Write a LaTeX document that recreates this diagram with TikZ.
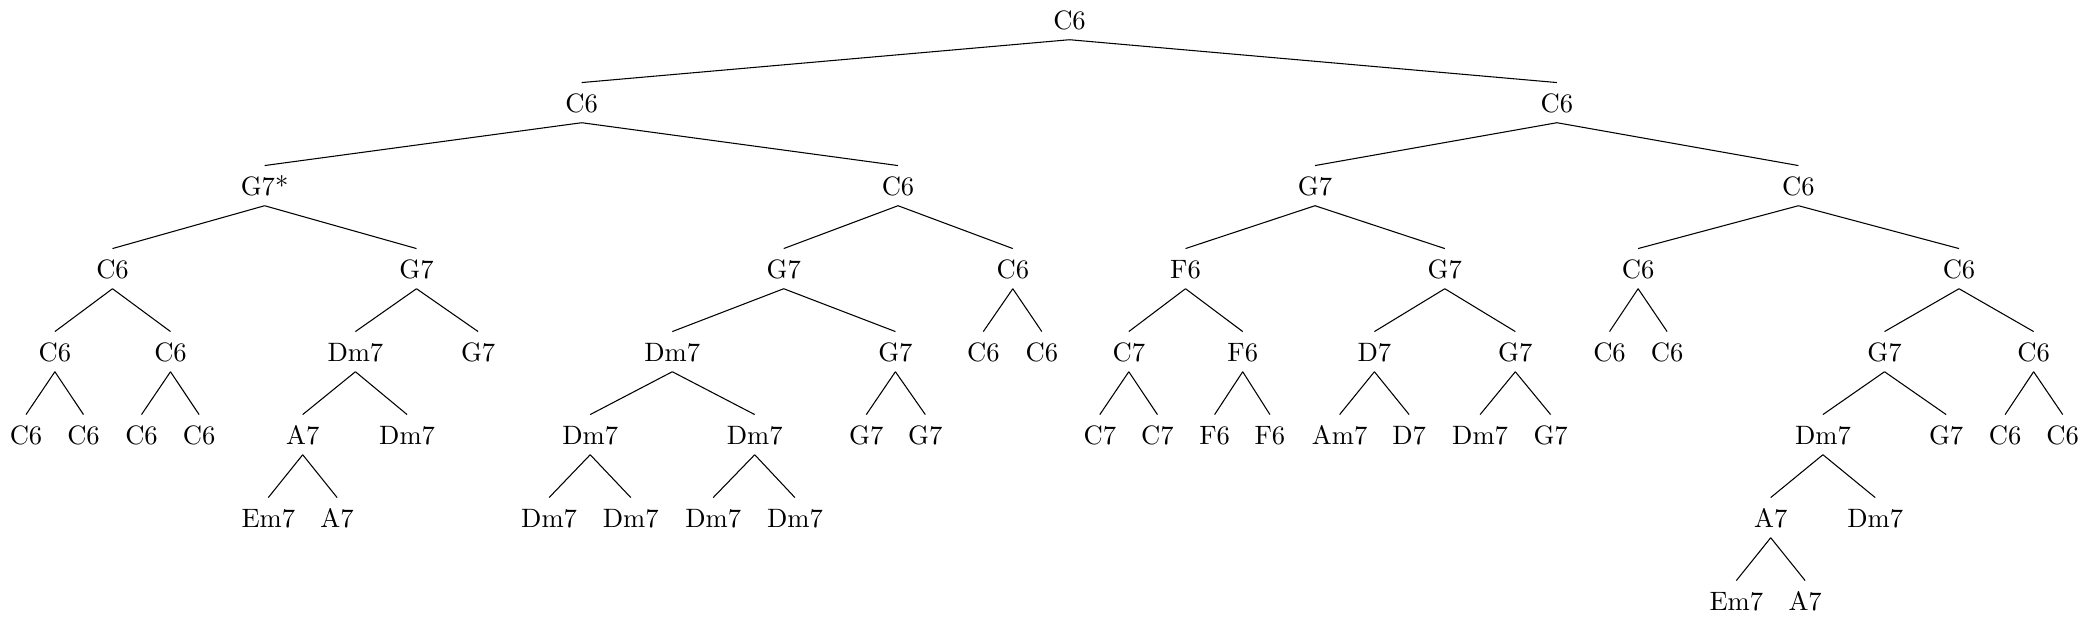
\documentclass[tikz,border=0pt]{standalone}
\begin{document}
\begin{tikzpicture}[x=0.376pt,y=-0.376pt,
  chord/.style={inner xsep=0pt,inner ysep=3.4pt,text height=6.9pt,text depth=0.2pt},
  branch/.style={line width=0.4pt}]
\useasboundingbox (0,0) rectangle (2089,619);
% level 0-3
\node[chord] (r) at (1069.5,20.7) {C6};
\node[chord] (L) at (581.7,103.7) {C6};
\node[chord] (R) at (1556.9,103.7) {C6};
\node[chord] (LL) at (264.6,186.7) {G7*};
\node[chord] (LR) at (898,186.7) {C6};
\node[chord] (RL) at (1315,186.7) {G7};
\node[chord] (RR) at (1798.4,186.7) {C6};
\node[chord] (LLL) at (112.5,269.7) {C6};
\node[chord] (LLR) at (416.5,269.7) {G7};
\node[chord] (LRL) at (783.7,269.7) {G7};
\node[chord] (LRR) at (1012.8,269.7) {C6};
\node[chord] (RLL) at (1185.5,269.7) {F6};
\node[chord] (RLR) at (1444.8,269.7) {G7};
\node[chord] (RRL) at (1638.1,269.7) {C6};
\node[chord] (RRR) at (1959,269.7) {C6};
% level 4
\node[chord] (LLLL) at (54.9,352.7) {C6};
\node[chord] (LLLR) at (170.5,352.7) {C6};
\node[chord] (LLRL) at (355.4,352.7) {Dm7};
\node[chord] (LLRR) at (478.1,352.7) {G7};
\node[chord] (LRLL) at (672.3,352.7) {Dm7};
\node[chord] (LRLR) at (895.4,352.7) {G7};
\node[chord] (LRRL) at (983.3,352.7) {C6};
\node[chord] (LRRR) at (1041.8,352.7) {C6};
\node[chord] (RLLL) at (1128.8,352.7) {C7};
\node[chord] (RLLR) at (1242.7,352.7) {F6};
\node[chord] (RLRL) at (1374.4,352.7) {D7};
\node[chord] (RLRR) at (1515.3,352.7) {G7};
\node[chord] (RRLL) at (1609.5,352.7) {C6};
\node[chord] (RRLR) at (1667.1,352.7) {C6};
\node[chord] (RRRL) at (1884.5,352.7) {G7};
\node[chord] (RRRR) at (2033.6,352.7) {C6};
% level 5
\node[chord] (a1) at (26,435.7) {C6};
\node[chord] (a2) at (83.5,435.7) {C6};
\node[chord] (a3) at (141.5,435.7) {C6};
\node[chord] (a4) at (199.1,435.7) {C6};
\node[chord] (a5) at (302.7,435.7) {A7};
\node[chord] (a6) at (407.1,435.7) {Dm7};
\node[chord] (a7) at (590.2,435.7) {Dm7};
\node[chord] (a8) at (754.7,435.7) {Dm7};
\node[chord] (a9) at (866.3,435.7) {G7};
\node[chord] (a10) at (925.3,435.7) {G7};
\node[chord] (a11) at (1099.8,435.7) {C7};
\node[chord] (a12) at (1157.4,435.7) {C7};
\node[chord] (a13) at (1214.6,435.7) {F6};
\node[chord] (a14) at (1269.9,435.7) {F6};
\node[chord] (a15) at (1339.6,435.7) {Am7};
\node[chord] (a16) at (1409.1,435.7) {D7};
\node[chord] (a17) at (1480.1,435.7) {Dm7};
\node[chord] (a18) at (1550.6,435.7) {G7};
\node[chord] (a19) at (1822.9,435.7) {Dm7};
\node[chord] (a20) at (1946.1,435.7) {G7};
\node[chord] (a21) at (2005.1,435.7) {C6};
\node[chord] (a22) at (2062.7,435.7) {C6};
% level 6
\node[chord] (b1) at (268.3,518.7) {Em7};
\node[chord] (b2) at (337.1,518.7) {A7};
\node[chord] (b3) at (549.1,518.7) {Dm7};
\node[chord] (b4) at (630.8,518.7) {Dm7};
\node[chord] (b5) at (713.2,518.7) {Dm7};
\node[chord] (b6) at (794.9,518.7) {Dm7};
\node[chord] (b7) at (1770.7,518.7) {A7};
\node[chord] (b8) at (1875.2,518.7) {Dm7};
% level 7
\node[chord] (c1) at (1736.3,601.7) {Em7};
\node[chord] (c2) at (1805.1,601.7) {A7};
% edges
\foreach \p/\c in {r/L,r/R,L/LL,L/LR,R/RL,R/RR,
  LL/LLL,LL/LLR,LR/LRL,LR/LRR,RL/RLL,RL/RLR,RR/RRL,RR/RRR,
  LLL/LLLL,LLL/LLLR,LLR/LLRL,LLR/LLRR,LRL/LRLL,LRL/LRLR,LRR/LRRL,LRR/LRRR,
  RLL/RLLL,RLL/RLLR,RLR/RLRL,RLR/RLRR,RRL/RRLL,RRL/RRLR,RRR/RRRL,RRR/RRRR,
  LLLL/a1,LLLL/a2,LLLR/a3,LLLR/a4,LLRL/a5,LLRL/a6,LRLL/a7,LRLL/a8,LRLR/a9,LRLR/a10,
  RLLL/a11,RLLL/a12,RLLR/a13,RLLR/a14,RLRL/a15,RLRL/a16,RLRR/a17,RLRR/a18,
  RRRL/a19,RRRL/a20,RRRR/a21,RRRR/a22,
  a5/b1,a5/b2,a7/b3,a7/b4,a8/b5,a8/b6,a19/b7,a19/b8,b7/c1,b7/c2}
  \draw[branch] (\p.south) -- ([yshift=0.8pt]\c.north);
\end{tikzpicture}
\end{document}
